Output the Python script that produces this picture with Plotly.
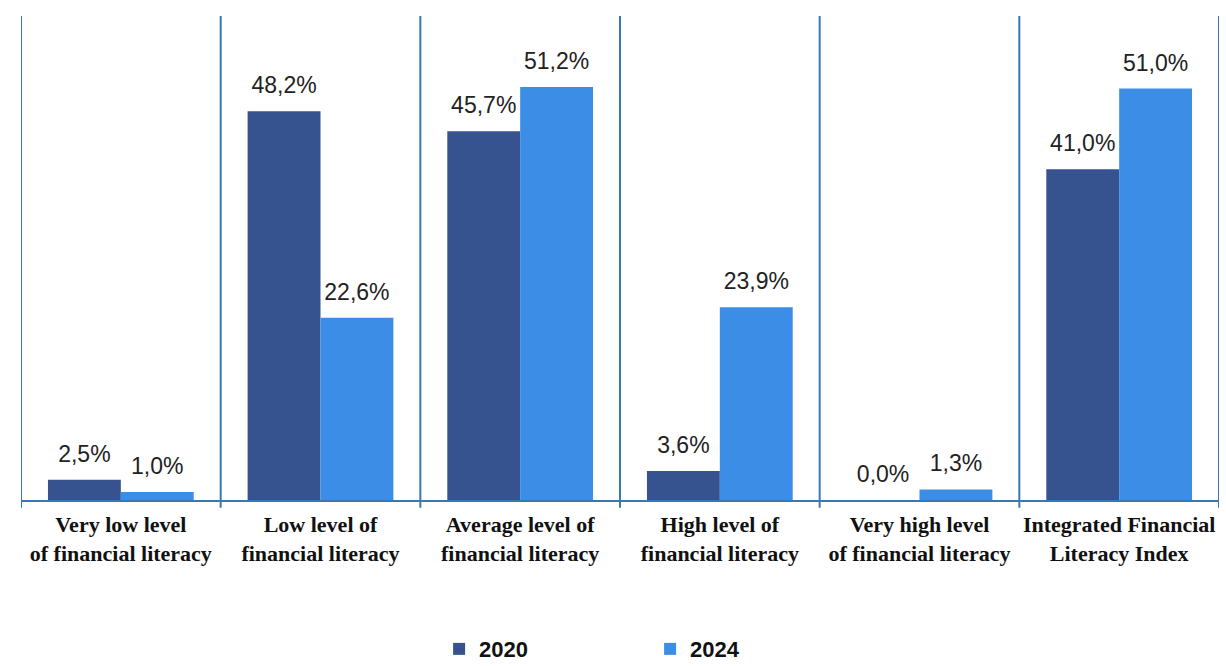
import plotly.graph_objects as go

categories = [
    "Very low level<br>of financial literacy",
    "Low level of<br>financial literacy",
    "Average level of<br>financial literacy",
    "High level of<br>financial literacy",
    "Very high level<br>of financial literacy",
    "Integrated Financial<br>Literacy Index",
]
values_2020 = [2.5, 48.2, 45.7, 3.6, 0.0, 41.0]
values_2024 = [1.0, 22.6, 51.2, 23.9, 1.3, 51.0]
series_names = ["2020", "2024"]
colors = ["#36528f", "#3b8de6"]
line_color = "#3a78b5"
label_gap = 1.25  # spacing between bar top and its value label (axis units)

def fmt(v):
    return f"{v:.1f}%".replace(".", ",")

xpos = list(range(len(categories)))

fig = go.Figure()
for k, (name, vals, col) in enumerate(zip(series_names, [values_2020, values_2024], colors)):
    fig.add_trace(go.Bar(
        x=xpos, y=vals, name=f"<b>{name}</b>",
        marker=dict(color=col, line=dict(width=0)),
        offsetgroup=str(k),
        hoverinfo="skip",
    ))
    # invisible spacer bars carrying the value labels just above each bar
    fig.add_trace(go.Bar(
        x=xpos, y=[label_gap] * len(vals), base=vals,
        marker=dict(color="rgba(0,0,0,0)", line=dict(width=0)),
        offsetgroup=str(k),
        text=[fmt(v) for v in vals],
        textposition="outside",
        textfont=dict(family="Liberation Sans, Arial, sans-serif", size=23, color="#222222"),
        cliponaxis=False, showlegend=False, hoverinfo="skip",
    ))

shapes = []
for i in range(len(categories) + 1):
    xb = i - 0.5
    shapes.append(dict(type="line", xref="x", yref="paper", x0=xb, x1=xb,
                       y0=-0.016, y1=1.0, line=dict(color=line_color, width=2)))

fig.update_layout(
    width=1226, height=666,
    margin=dict(l=21, r=7, t=16, b=166, autoexpand=False),
    paper_bgcolor="white", plot_bgcolor="white",
    barmode="group", bargap=0.27, bargroupgap=0,
    shapes=shapes,
    showlegend=True,
    legend=dict(orientation="h", x=0.349, xanchor="left", y=-0.308, yanchor="middle",
                font=dict(family="Liberation Sans, Arial, sans-serif", size=22, color="#111111"),
                entrywidth=166, entrywidthmode="pixels", itemwidth=30),
    xaxis=dict(
        range=[-0.5, len(categories) - 0.5],
        tickmode="array", tickvals=xpos,
        ticktext=[f"<b>{c}</b>" for c in categories],
        tickfont=dict(family="Liberation Serif, Times New Roman, serif", size=22, color="#111111"),
        showline=True, linecolor=line_color, linewidth=2,
        showgrid=False, zeroline=False, ticks="", automargin=False,
        ticklabelstandoff=4,
    ),
    yaxis=dict(range=[0, 60], visible=False, showgrid=False, zeroline=False),
)

fig.write_html("out.html")
